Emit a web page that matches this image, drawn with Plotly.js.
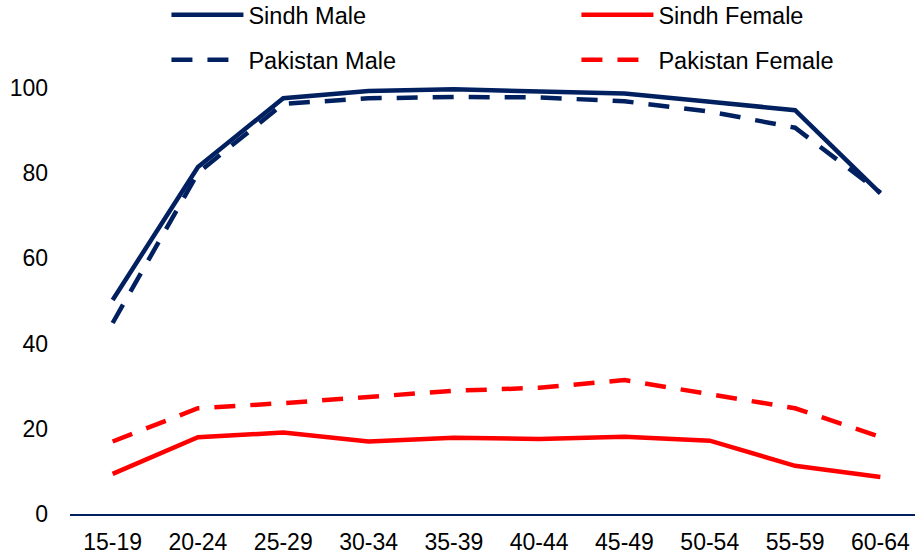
<!DOCTYPE html>
<html>
<head>
<meta charset="utf-8">
<script src="https://cdn.plot.ly/plotly-3.0.1.min.js"></script>
<style>html,body{margin:0;padding:0;background:#fff;}#chart{width:915px;height:558px;}</style>
</head>
<body>
<div id="chart"></div>
<script>
const ageGroups = ["15-19","20-24","25-29","30-34","35-39","40-44","45-49","50-54","55-59","60-64"];
const sindhMale = [50.2, 81.4, 97.5, 99.2, 99.6, 99.0, 98.6, 96.7, 94.7, 75.2];
const pakistanMale = [44.8, 80.0, 96.2, 97.5, 97.8, 97.7, 96.8, 94.4, 90.6, 75.4];
const sindhFemale = [9.4, 18.0, 19.1, 17.0, 17.9, 17.6, 18.1, 17.2, 11.3, 8.7];
const pakistanFemale = [17.0, 24.8, 26.0, 27.5, 28.9, 29.6, 31.4, 28.1, 24.8, 18.1];
const yTicks = [0, 20, 40, 60, 80, 100];

const navy = "#002060", red = "#FF0000";
const dashPat = "21px,15px";

const traces = [
  {x: ageGroups, y: sindhMale, name: "Sindh Male", type: "scatter", mode: "lines",
   line: {color: navy, width: 4.5}, legend: "legend"},
  {x: ageGroups, y: sindhFemale, name: "Sindh Female", type: "scatter", mode: "lines",
   line: {color: red, width: 4.5}, legend: "legend"},
  {x: ageGroups, y: pakistanMale, name: "Pakistan Male", type: "scatter", mode: "lines",
   line: {color: navy, width: 4.5, dash: dashPat}, legend: "legend2"},
  {x: ageGroups, y: pakistanFemale, name: "Pakistan Female", type: "scatter", mode: "lines",
   line: {color: red, width: 4.5, dash: dashPat}, legend: "legend2"}
];

const legFont = {family: "Liberation Sans, Arial, sans-serif", size: 23.5, color: "#000"};
const legendBase = {
  orientation: "h", xref: "container", yref: "container", xanchor: "left", yanchor: "middle",
  x: 0.1819, font: legFont, entrywidth: 323, entrywidthmode: "pixels", itemwidth: 72,
  bgcolor: "rgba(0,0,0,0)", borderwidth: 0, traceorder: "normal"
};

const layout = {
  width: 915, height: 558,
  margin: {l: 70, r: 0, t: 45, b: 44, autoexpand: false},
  paper_bgcolor: "#fff", plot_bgcolor: "#fff",
  font: {family: "Liberation Sans, Arial, sans-serif", size: 23, color: "#000"},
  showlegend: true,
  legend: Object.assign({}, legendBase, {y: 1 - 15/558}),
  legend2: Object.assign({}, legendBase, {y: 1 - 60/558}),
  xaxis: {
    type: "category", range: [-0.5, 9.406], showgrid: false, zeroline: false, automargin: false,
    showline: true, linecolor: navy, linewidth: 2, ticks: "", ticklabelstandoff: 6,
    tickfont: {size: 23, color: "#000"}
  },
  yaxis: {
    range: [0, 110], tickvals: yTicks, ticktext: yTicks.map(String), showgrid: false, automargin: false,
    zeroline: false, showline: false, ticks: "", ticklabelstandoff: 21,
    tickfont: {size: 23, color: "#000"}
  }
};

Plotly.newPlot("chart", traces, layout, {displayModeBar: false, staticPlot: true});
</script>
</body>
</html>
